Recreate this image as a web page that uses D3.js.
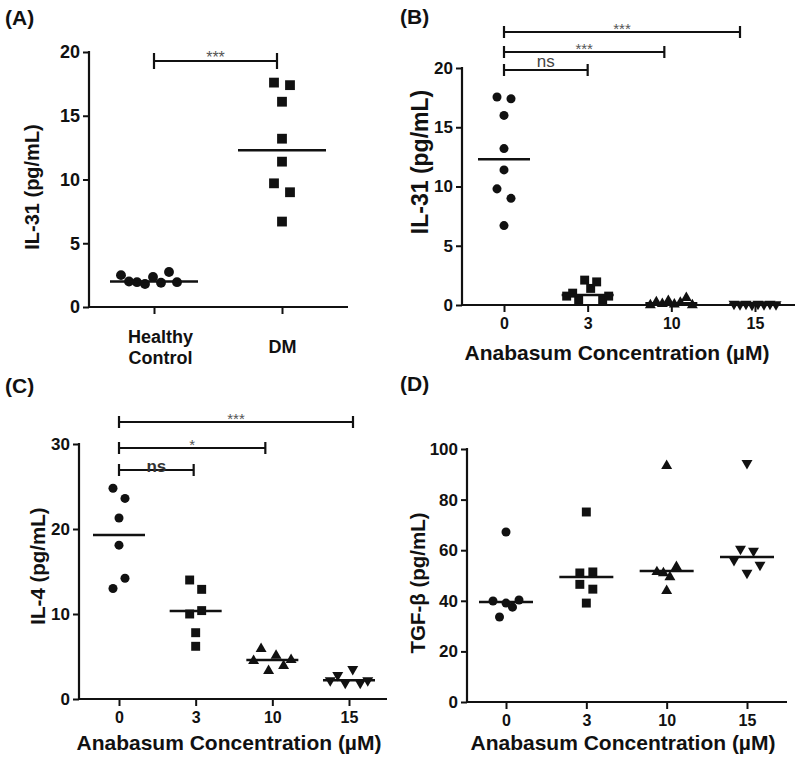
<!DOCTYPE html>
<html><head><meta charset="utf-8">
<script src="https://cdn.jsdelivr.net/npm/d3@7"></script>
<style>
body{margin:0;background:#fff}
text{font-family:"Liberation Sans",Arial,Helvetica,sans-serif;fill:#111}
</style>
</head><body>
<svg id="c" width="800" height="757" xmlns="http://www.w3.org/2000/svg"></svg>
<script>
// ---------------- DATA ----------------
const groupsA = ["Healthy Control", "DM"];
const il31Healthy = [2.5, 2.0, 1.95, 1.8, 2.35, 1.9, 2.75, 1.95];
const il31DM = [17.6, 17.4, 16.1, 13.2, 11.4, 9.7, 9.0, 6.7];
const centerA = [2.0, 12.3];

const concentrations = ["0", "3", "10", "15"];

const il31Conc0 = [17.55, 17.4, 16.0, 13.2, 11.4, 9.8, 9.0, 6.7];
const il31Conc3 = [0.75, 1.0, 0.45, 2.1, 1.4, 1.95, 0.45, 0.75];
const il31Conc10 = [0.0, 0.25, 0.1, 0.35, 0.05, 0.2, 0.6, 0.0];
const il31Conc15 = [0.1, 0.05, 0.1, 0.0, 0.1, 0.05, 0.1, 0.05];
const centerB = [12.3, 0.85, 0.15, 0.05];

const il4Conc0 = [24.8, 23.6, 21.3, 18.1, 13.0, 14.2];
const il4Conc3 = [14.0, 12.9, 10.0, 10.4, 7.8, 6.2];
const il4Conc10 = [4.5, 5.9, 3.3, 5.1, 3.9, 4.6];
const il4Conc15 = [2.2, 2.8, 1.9, 3.5, 1.9, 2.2];
const centerC = [19.3, 10.35, 4.6, 2.2];

const tgfConc0 = [67.2, 39.9, 33.6, 39.1, 37.5, 40.3];
const tgfConc3 = [75.1, 51.0, 51.4, 46.5, 44.6, 39.1];
const tgfConc10 = [93.3, 51.4, 51.0, 49.4, 53.4, 43.9];
const tgfConc15 = [94.4, 56.1, 60.5, 51.0, 59.7, 54.2];
const centerD = [39.5, 49.4, 51.8, 57.3];

const ticksA = [0, 5, 10, 15, 20];
const ticksB = [0, 5, 10, 15, 20];
const ticksC = [0, 10, 20, 30];
const ticksD = [0, 20, 40, 60, 80, 100];

const sigA = [{to: "DM", label: "***"}];
const sigB = [{to: "3", label: "ns"}, {to: "10", label: "***"}, {to: "15", label: "***"}];
const sigC = [{to: "3", label: "ns"}, {to: "10", label: "*"}, {to: "15", label: "***"}];

// ---------------- DRAW ----------------
const svg = d3.select("#c");
svg.append("rect").attr("width", 800).attr("height", 757).attr("fill", "#fff");

const inverted = {
  draw(ctx, size) {
    const s = Math.sqrt(size / (Math.sqrt(3) / 4));
    const h = s * Math.sqrt(3) / 2;
    ctx.moveTo(-s / 2, -h / 3);
    ctx.lineTo(s / 2, -h / 3);
    ctx.lineTo(0, 2 * h / 3);
    ctx.closePath();
  }
};
const upTri = {
  draw(ctx, size) {
    const s = Math.sqrt(size / (Math.sqrt(3) / 4));
    const h = s * Math.sqrt(3) / 2;
    ctx.moveTo(-s / 2, h / 3);
    ctx.lineTo(s / 2, h / 3);
    ctx.lineTo(0, -2 * h / 3);
    ctx.closePath();
  }
};
const shapes = {
  circle: [d3.symbolCircle, 64],
  square: [d3.symbolSquare, 80],
  tri: [upTri, 52],
  inv: [inverted, 52]
};

function swarm(values, y, thresh, pairStep, clusterStep) {
  const idx = values.map((v, i) => i).sort((a, b) => values[b] - values[a]);
  const clusters = [];
  let cur = [idx[0]];
  for (let k = 1; k < idx.length; k++) {
    if (y(values[idx[k]]) - y(values[idx[k - 1]]) < thresh) cur.push(idx[k]);
    else { clusters.push(cur); cur = [idx[k]]; }
  }
  clusters.push(cur);
  const off = new Array(values.length).fill(0);
  clusters.forEach(c => {
    const m = c.slice().sort((a, b) => a - b);
    const n = m.length;
    const step = n === 2 ? pairStep : clusterStep;
    m.forEach((i, j) => off[i] = (j - (n - 1) / 2) * step);
  });
  return off;
}

function panel(cfg) {
  const g = svg.append("g");
  const x = d3.scalePoint().domain(cfg.cats).range(cfg.xRange);
  const y = d3.scaleLinear().domain([cfg.ticks[0], cfg.ticks[cfg.ticks.length - 1]]).range(cfg.yRange);
  const x0 = cfg.axisX, yb = cfg.yRange[0];

  // y axis
  const ya = g.append("g").attr("transform", `translate(${x0},0)`)
    .call(d3.axisLeft(y).tickValues(cfg.ticks).tickSize(6).tickPadding(3).tickSizeOuter(0));
  ya.select(".domain").remove();
  ya.selectAll(".tick line").attr("stroke", "#111").attr("stroke-width", 2);
  ya.selectAll(".tick text").style("font-size", cfg.yTickSize + "px").style("font-weight", "bold").attr("fill", "#111");
  g.append("line").attr("x1", x0).attr("x2", x0).attr("y1", y(cfg.ticks[cfg.ticks.length - 1]) - 1).attr("y2", yb + 1)
    .attr("stroke", "#111").attr("stroke-width", 2.2);

  // x axis
  const xa = g.append("g").attr("transform", `translate(0,${yb})`)
    .call(d3.axisBottom(x).tickSize(7).tickPadding(cfg.xTickPad || 6));
  xa.select(".domain").remove();
  xa.selectAll(".tick line").attr("stroke", "#111").attr("stroke-width", 2);
  xa.selectAll(".tick text").style("font-size", cfg.xTickSize + "px").style("font-weight", "bold").attr("fill", "#111");
  g.append("line").attr("x1", x0 - 1).attr("x2", cfg.axisEnd).attr("y1", yb).attr("y2", yb)
    .attr("stroke", "#111").attr("stroke-width", 2.2);
  if (cfg.twoLine) {
    xa.selectAll(".tick text").each(function (d) {
      const t = d3.select(this);
      const words = d.split(" ");
      t.text(null);
      if (words.length > 1) {
        words.forEach((w, i) => t.append("tspan").attr("x", cfg.twoLineShift || 0).attr("dy", i === 0 ? "0.71em" : "1.2em").text(w));
      } else {
        t.append("tspan").attr("x", 0).attr("dy", "1.3em").text(d);
      }
    });
  }

  // points
  cfg.series.forEach((s, si) => {
    const off = swarm(s.values, y, 11, cfg.pairStep, cfg.clusterStep);
    const sh = shapes[s.shape];
    const sym = d3.symbol().type(sh[0]).size(sh[1] * (cfg.markScale || 1));
    g.append("g").selectAll("path").data(s.values).join("path")
      .attr("d", sym)
      .attr("transform", (d, i) => `translate(${x(cfg.cats[si]) + off[i] + (cfg.swarmShift ? cfg.swarmShift[si] : 0)},${y(d)})`)
      .attr("fill", "#111");
  });

  // center lines
  g.append("g").selectAll("line").data(cfg.centers).join("line")
    .attr("x1", (d, i) => x(cfg.cats[i]) - cfg.half + (cfg.lineShift ? cfg.lineShift[i] : 0))
    .attr("x2", (d, i) => x(cfg.cats[i]) + cfg.half + (cfg.lineShift ? cfg.lineShift[i] : 0))
    .attr("y1", d => y(d)).attr("y2", d => y(d))
    .attr("stroke", "#111").attr("stroke-width", 2.5);

  // significance brackets
  (cfg.sig || []).forEach((s, i) => {
    const yy = cfg.sigY[i];
    const xa1 = x(cfg.cats[0]), xa2 = x(s.to) + (cfg.sigEndShift ? cfg.sigEndShift[i] : 0);
    const bg = g.append("g").attr("stroke", "#111").attr("stroke-width", 2.2);
    bg.append("line").attr("x1", xa1).attr("x2", xa2).attr("y1", yy).attr("y2", yy);
    bg.append("line").attr("x1", xa1).attr("x2", xa1).attr("y1", yy - cfg.capH).attr("y2", yy + cfg.capH);
    bg.append("line").attr("x1", xa2).attr("x2", xa2).attr("y1", yy - cfg.capH).attr("y2", yy + cfg.capH);
    const st = cfg.sigStyle[i];
    g.append("text").attr("x", (xa1 + xa2) / 2).attr("y", yy + st.dy)
      .attr("text-anchor", "middle").style("font-size", st.size + "px")
      .style("font-weight", st.bold ? "bold" : "normal").style("fill", st.color).text(s.label);
  });

  // y title
  g.append("text").attr("transform", `translate(${cfg.yTitlePos[0]},${cfg.yTitlePos[1]}) rotate(-90)`)
    .attr("text-anchor", "middle").attr("dy", "0.35em")
    .style("font-size", cfg.yTitleSize + "px").style("font-weight", "bold").text(cfg.yTitle);
  // x title
  if (cfg.xTitle) {
    g.append("text").attr("x", cfg.xTitlePos[0]).attr("y", cfg.xTitlePos[1]).attr("text-anchor", "middle")
      .style("font-size", cfg.xTitleSize + "px").style("font-weight", "bold").text(cfg.xTitle);
  }
  // panel label
  g.append("text").attr("x", cfg.labelPos[0]).attr("y", cfg.labelPos[1])
    .style("font-size", "21px").style("font-weight", "bold").text(cfg.label);
}

const xTitle = "Anabasum Concentration (\u00B5M)";
const small = {size: 15, bold: false, color: "#555", dy: 2};

panel({
  label: "(A)", labelPos: [5, 25],
  cats: groupsA, xRange: [154, 282], axisX: 89, axisEnd: 348,
  ticks: ticksA, yRange: [307, 52], yTickSize: 18, xTickSize: 18, xTickPad: 16,
  twoLine: true, twoLineShift: 6,
  series: [{values: il31Healthy, shape: "circle"}, {values: il31DM, shape: "square"}],
  swarmShift: [-5, 0],
  centers: centerA, half: 44, lineShift: [0, 0],
  pairStep: 16, clusterStep: 8, markScale: 1.2,
  sig: sigA, sigY: [61], capH: 8, sigEndShift: [-5],
  sigStyle: [{size: 16, bold: false, color: "#555", dy: 2}],
  yTitle: "IL-31 (pg/mL)", yTitlePos: [32, 187], yTitleSize: 20
});

panel({
  label: "(B)", labelPos: [400, 24],
  cats: concentrations, xRange: [504, 755], axisX: 462, axisEnd: 795,
  ticks: ticksB, yRange: [305, 68], yTickSize: 17, xTickSize: 16,
  series: [{values: il31Conc0, shape: "circle"}, {values: il31Conc3, shape: "square"},
           {values: il31Conc10, shape: "tri"}, {values: il31Conc15, shape: "inv"}],
  centers: centerB, half: 26,
  pairStep: 14, clusterStep: 6,
  sig: sigB, sigY: [70, 52, 32], capH: 6, sigEndShift: [0, -7, -15],
  sigStyle: [{size: 17, bold: false, color: "#444", dy: -3}, small, small],
  yTitle: "IL-31 (pg/mL)", yTitlePos: [420, 162], yTitleSize: 23,
  xTitle: xTitle, xTitlePos: [617, 360], xTitleSize: 21
});

panel({
  label: "(C)", labelPos: [5, 393],
  cats: concentrations, xRange: [119, 349], axisX: 79, axisEnd: 387,
  ticks: ticksC, yRange: [699, 444], yTickSize: 17, xTickSize: 16,
  series: [{values: il4Conc0, shape: "circle"}, {values: il4Conc3, shape: "square"},
           {values: il4Conc10, shape: "tri"}, {values: il4Conc15, shape: "inv"}],
  centers: centerC, half: 26,
  pairStep: 12, clusterStep: 7.5,
  sig: sigC, sigY: [470, 448, 422], capH: 6, sigEndShift: [-2, -7, 4],
  sigStyle: [{size: 17, bold: true, color: "#333", dy: 2}, small, small],
  yTitle: "IL-4 (pg/mL)", yTitlePos: [38, 566], yTitleSize: 20.5,
  xTitle: xTitle, xTitlePos: [229, 750], xTitleSize: 21
});

panel({
  label: "(D)", labelPos: [400, 391],
  cats: concentrations, xRange: [506, 747], axisX: 467, axisEnd: 787,
  ticks: ticksD, yRange: [702, 449], yTickSize: 17, xTickSize: 16,
  series: [{values: tgfConc0, shape: "circle"}, {values: tgfConc3, shape: "square"},
           {values: tgfConc10, shape: "tri"}, {values: tgfConc15, shape: "inv"}],
  centers: centerD, half: 27,
  pairStep: 13, clusterStep: 6.5,
  yTitle: "TGF-\u03B2 (pg/mL)", yTitlePos: [418, 583], yTitleSize: 20.5,
  xTitle: xTitle, xTitlePos: [623, 750], xTitleSize: 21
});
</script>
</body></html>
